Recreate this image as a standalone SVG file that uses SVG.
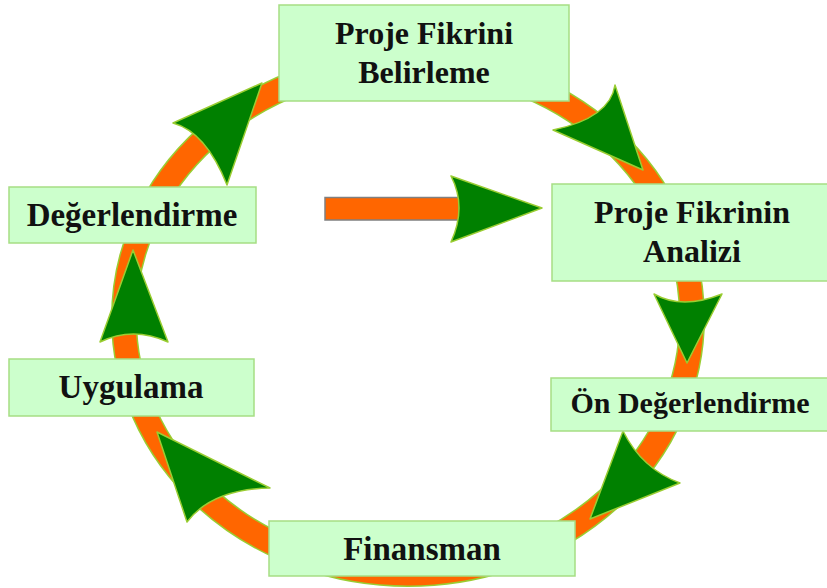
<svg xmlns="http://www.w3.org/2000/svg" width="827" height="588" viewBox="0 0 827 588">
<style>
.box{fill:#CCFFCC;stroke:#A6DE84;stroke-width:1.5}
.lbl{font-family:"Liberation Serif","Times New Roman",serif;font-weight:bold;font-size:32px;fill:#111;text-anchor:middle}
.head{fill:#008000;stroke:#9ACD32;stroke-width:1.5;stroke-linejoin:round}
</style>
<rect width="827" height="588" fill="#fff"/>
<g id="connectors">
  <g id="ring">
    <ellipse cx="408" cy="318" rx="284" ry="256" fill="none" stroke="#9ACD32" stroke-width="26"/>
    <ellipse cx="408" cy="318" rx="284" ry="256" fill="none" stroke="#FF6600" stroke-width="23"/>
  </g>
  <g id="center-arrow">
    <rect x="325" y="197.5" width="134" height="22.5" fill="#FF6600" stroke="#808080" stroke-width="1.5"/>
    <path class="head" d="M451,176 L542,208 L451,242 Q467,207 451,176 Z"/>
  </g>
  <path id="arrow-to-belirleme" class="head" d="M173,123 L262,83 L227,185 Q206,132 173,123 Z"/>
  <path id="arrow-to-analizi" class="head" d="M615,85 L643,170 L553,130 Q610,118 615,85 Z"/>
  <path id="arrow-to-on" class="head" d="M654,294 L687,363 L722,294 Q682,310 654,294 Z"/>
  <path id="arrow-to-finansman" class="head" d="M623,431 L590,519 L680,483 Q642,469 623,431 Z"/>
  <path id="arrow-to-uygulama" class="head" d="M270,488 L157,432 L187,522 Q212,489 270,488 Z"/>
  <path id="arrow-to-degerlendirme" class="head" d="M100,342 L133,250 L168,342 Q133,326 100,342 Z"/>
</g>
<g id="node-belirleme">
  <rect class="box" x="279" y="5" width="290" height="96"/>
  <text class="lbl" x="424" y="44">Proje Fikrini</text>
  <text class="lbl" x="424" y="83">Belirleme</text>
</g>
<g id="node-analizi">
  <rect class="box" x="552" y="184" width="282" height="97"/>
  <text class="lbl" x="692" y="223">Proje Fikrinin</text>
  <text class="lbl" x="692" y="262">Analizi</text>
</g>
<g id="node-on">
  <rect class="box" x="551" y="378" width="283" height="53"/>
  <text class="lbl" x="690" y="413" style="font-size:30px">Ön Değerlendirme</text>
</g>
<g id="node-finansman">
  <rect class="box" x="269" y="521" width="306" height="55"/>
  <text class="lbl" x="422" y="560" style="font-size:33px">Finansman</text>
</g>
<g id="node-uygulama">
  <rect class="box" x="9" y="359" width="245" height="57"/>
  <text class="lbl" x="131" y="398" style="font-size:33px">Uygulama</text>
</g>
<g id="node-degerlendirme">
  <rect class="box" x="9" y="187" width="247" height="56"/>
  <text class="lbl" x="132" y="226" style="font-size:33px">Değerlendirme</text>
</g>
</svg>
